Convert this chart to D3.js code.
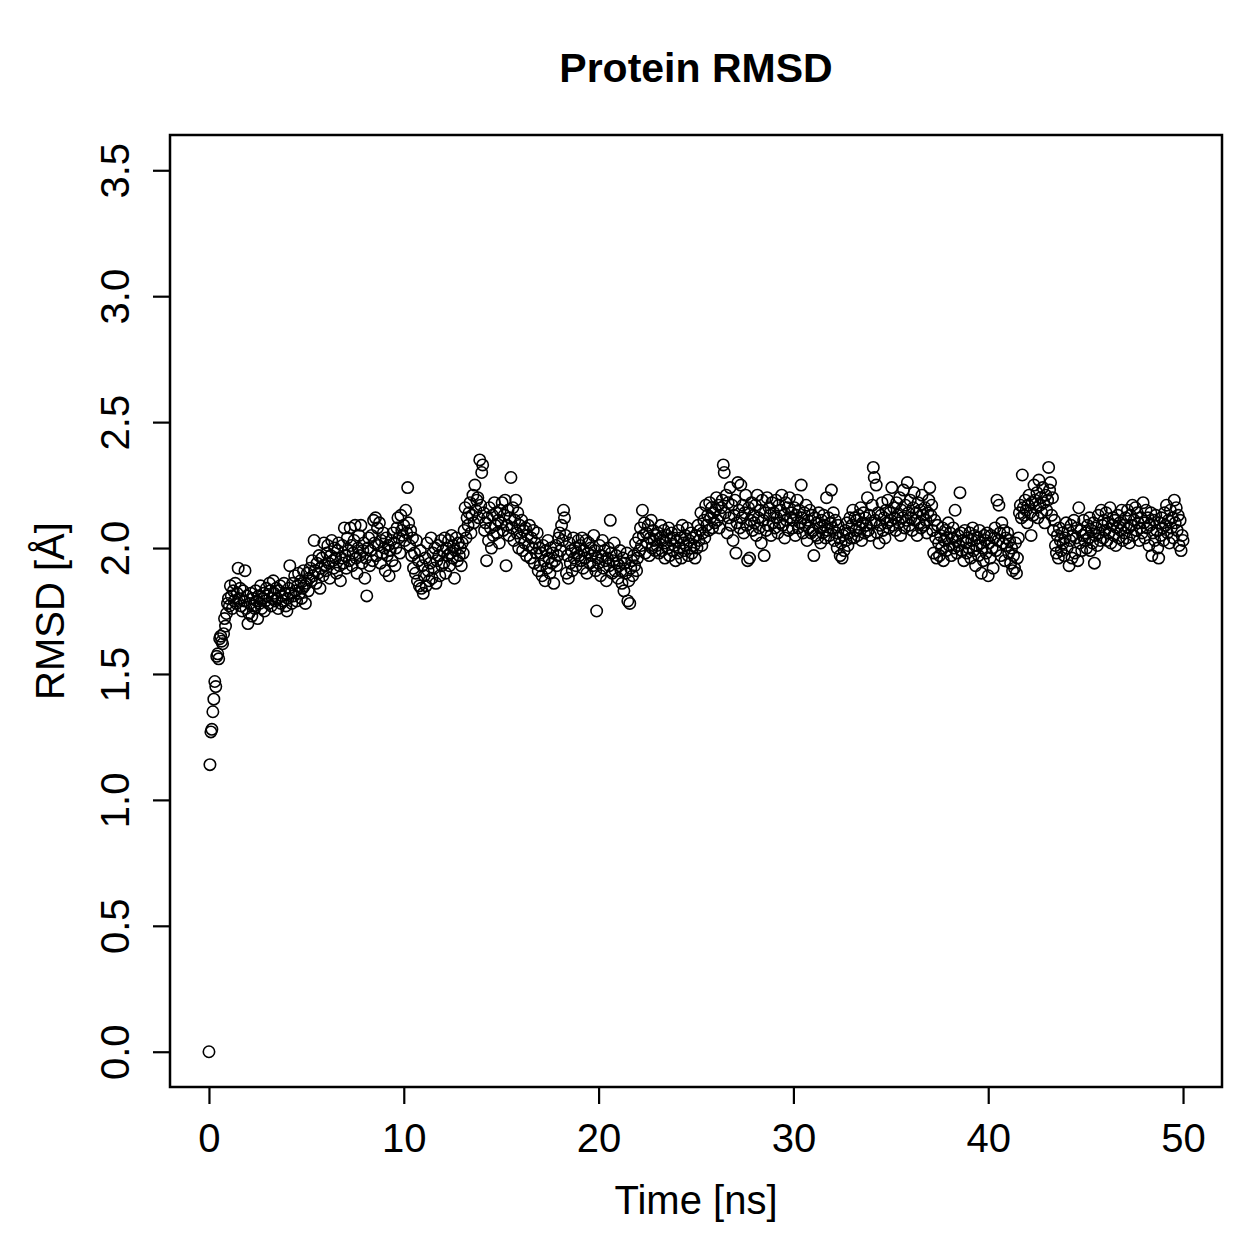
<!DOCTYPE html>
<html>
<head>
<meta charset="utf-8">
<script src="https://cdn.jsdelivr.net/npm/d3@7"></script>
<style>
  body { margin: 0; background: #fff; }
  svg text { font-family: "Liberation Sans", Arial, sans-serif; fill: #000; }
</style>
</head>
<body>
<div id="chart"></div>
<script>
// Data: RMSD sampled every 0.05 ns, one row per ns
const timeStep = 0.05;
const rmsdValues = [
  0.00,1.14,1.27,1.28,1.35,1.40,1.47,1.45,1.57,1.58,1.56,1.64,1.65,1.63,1.62,1.66,1.72,1.69,1.74,1.78,
  1.80,1.77,1.85,1.81,1.76,1.83,1.79,1.86,1.78,1.82,1.92,1.80,1.84,1.77,1.75,1.83,1.79,1.91,1.76,1.81,
  1.70,1.74,1.78,1.82,1.73,1.80,1.77,1.76,1.83,1.79,1.72,1.81,1.78,1.85,1.76,1.80,1.82,1.75,1.79,1.84,
  1.81,1.78,1.86,1.83,1.77,1.80,1.87,1.82,1.79,1.84,1.80,1.76,1.83,1.85,1.78,1.81,1.79,1.86,1.82,1.77,
  1.75,1.80,1.84,1.93,1.82,1.78,1.86,1.81,1.89,1.83,1.79,1.85,1.90,1.82,1.87,1.80,1.84,1.91,1.85,1.78,
  1.86,1.90,1.83,1.88,1.92,1.87,1.95,1.89,2.03,1.91,1.86,1.94,1.90,1.97,1.84,1.92,1.96,1.89,2.02,1.93,
  1.91,1.98,2.01,1.94,1.88,1.97,2.03,1.95,1.92,2.00,1.96,1.90,1.99,2.02,1.93,1.87,1.96,2.01,1.94,2.08,
  1.97,1.92,2.04,1.99,1.95,2.08,2.01,1.93,1.98,2.03,2.09,1.96,1.90,2.00,2.05,1.97,2.09,1.94,1.99,2.02,
  1.88,1.96,1.81,2.00,2.04,1.93,1.99,2.05,1.95,2.11,2.02,2.12,1.97,2.08,2.01,2.10,1.94,2.03,1.98,2.06,
  2.00,1.91,2.04,1.97,2.01,1.89,1.99,2.03,1.95,2.06,2.02,1.93,2.00,2.08,2.12,2.04,1.98,2.13,2.07,2.05,
  2.09,2.03,2.15,2.06,2.24,2.10,2.01,2.07,1.97,2.04,1.92,1.98,1.90,2.03,1.87,1.95,1.85,1.99,1.84,1.93,
  1.82,1.89,1.96,1.85,2.02,1.91,1.87,1.94,2.04,1.88,1.98,1.92,2.00,1.86,1.95,2.01,1.97,1.89,2.03,1.93,
  1.99,1.94,2.04,1.90,2.00,1.97,2.03,1.93,1.98,2.05,1.96,2.01,1.88,1.99,2.04,1.95,2.02,1.97,2.00,1.93,
  2.02,1.98,2.07,2.16,2.04,2.12,2.09,2.14,2.18,2.06,2.13,2.21,2.10,2.25,2.15,2.19,2.20,2.12,2.35,2.17,
  2.30,2.33,2.14,2.07,2.10,1.95,2.12,2.03,2.16,2.08,2.00,2.13,2.05,2.18,2.09,2.14,2.06,2.11,2.02,2.15,
  2.10,2.18,2.07,2.13,2.19,1.93,2.09,2.15,2.05,2.12,2.28,2.08,2.16,2.03,2.11,2.19,2.06,2.14,2.00,2.09,
  2.04,2.11,1.99,2.07,2.02,2.08,1.97,2.05,2.01,2.09,1.96,2.04,2.00,2.07,1.94,2.02,1.98,2.06,1.91,2.00,
  1.93,1.98,1.89,2.01,1.95,1.87,1.99,1.92,2.03,1.96,1.90,2.00,1.94,1.98,1.86,1.95,2.01,1.93,1.97,2.04,
  2.06,1.99,2.09,2.03,2.15,2.12,2.05,1.90,1.97,1.88,2.02,1.94,1.99,1.91,2.04,1.96,2.00,1.93,1.98,2.03,
  1.97,2.01,1.95,2.04,1.92,1.99,1.96,2.03,1.90,1.98,2.02,1.94,2.00,1.97,1.93,2.05,1.99,1.91,1.75,1.96,
  1.94,2.01,1.89,1.97,2.03,1.92,1.99,1.95,1.87,1.96,2.00,1.93,2.11,1.98,1.90,1.95,2.02,1.91,1.97,1.94,
  1.88,1.93,1.99,1.91,1.86,1.96,1.83,1.94,1.90,1.98,1.79,1.87,1.78,1.92,1.95,1.89,1.97,1.93,2.02,1.91,
  1.96,2.04,1.99,2.08,2.01,2.15,2.05,2.10,1.98,2.06,2.02,2.09,1.97,2.04,2.11,2.00,2.07,2.03,1.99,2.05,
  2.01,2.06,1.98,2.04,2.09,1.99,2.03,2.07,1.96,2.02,2.05,2.00,2.08,1.97,2.03,2.06,1.99,2.04,2.01,1.95,
  2.03,1.98,2.07,2.00,2.04,1.96,2.09,2.02,1.99,2.05,2.01,2.08,1.97,2.03,2.00,2.06,1.98,2.04,2.01,1.96,
  2.05,2.00,2.09,2.03,2.07,2.14,2.01,2.06,2.11,2.04,2.17,2.09,2.13,2.07,2.18,2.12,2.16,2.08,2.14,2.10,
  2.15,2.20,2.11,2.17,2.08,2.13,2.16,2.19,2.33,2.30,2.14,2.21,2.06,2.18,2.12,2.24,2.09,2.17,2.03,2.13,
  2.19,1.98,2.10,2.26,2.15,2.08,2.25,2.12,2.17,2.06,2.14,2.21,2.09,1.95,2.16,1.96,2.11,2.18,2.07,2.13,
  2.10,2.17,2.05,2.21,2.12,2.08,2.15,2.02,2.19,2.11,1.97,2.14,2.07,2.20,2.09,2.16,2.13,2.05,2.18,2.10,
  2.14,2.08,2.19,2.12,2.06,2.17,2.10,2.15,2.21,2.09,2.13,2.04,2.18,2.11,2.16,2.07,2.20,2.12,2.14,2.08,
  2.11,2.16,2.05,2.13,2.19,2.08,2.15,2.10,2.25,2.12,2.06,2.14,2.09,2.17,2.03,2.11,2.08,2.15,2.06,2.13,
  2.07,1.97,2.12,2.05,2.10,2.04,2.14,2.08,2.02,2.11,2.06,2.13,2.09,2.04,2.20,2.07,2.12,2.05,2.10,2.23,
  2.08,2.14,2.03,2.11,2.06,2.00,2.09,2.04,1.97,2.02,1.96,2.05,1.99,2.07,2.03,2.10,2.01,2.06,2.12,2.04,
  2.09,2.15,2.04,2.12,2.07,2.11,2.05,2.13,2.08,2.16,2.03,2.10,2.14,2.06,2.12,2.09,2.20,2.07,2.13,2.05,
  2.10,2.17,2.32,2.28,2.11,2.25,2.06,2.14,2.02,2.09,2.13,2.18,2.07,2.12,2.04,2.15,2.10,2.19,2.08,2.14,
  2.11,2.24,2.09,2.16,2.12,2.07,2.18,2.13,2.10,2.20,2.05,2.15,2.12,2.23,2.08,2.17,2.11,2.26,2.14,2.09,
  2.19,2.12,2.07,2.16,2.22,2.11,2.14,2.05,2.18,2.10,2.15,2.08,2.21,2.13,2.09,2.16,2.11,2.06,2.14,2.19,
  2.24,2.13,2.17,2.07,1.98,2.11,2.04,1.96,2.09,2.02,1.97,2.05,2.00,2.08,1.95,2.03,2.07,1.99,2.04,2.10,
  2.01,2.06,1.97,2.04,2.08,2.00,2.15,2.03,1.98,2.05,2.01,2.22,2.06,1.99,2.03,1.95,2.07,2.02,1.98,2.04,
  2.00,2.06,1.96,2.03,2.08,1.99,2.05,1.93,2.01,2.04,1.97,2.07,2.02,1.90,2.00,1.95,2.05,2.03,1.98,2.06,
  1.89,2.02,1.96,2.05,2.00,1.92,2.04,2.08,1.99,2.19,2.03,2.17,2.06,1.97,2.10,2.02,2.07,1.95,2.04,2.01,
  2.06,1.98,2.03,1.94,2.00,1.91,1.97,1.92,2.02,1.90,1.96,2.04,2.14,2.17,2.12,2.29,2.16,2.13,2.19,2.15,
  2.10,2.17,2.21,2.14,2.05,2.18,2.13,2.25,2.19,2.16,2.22,2.12,2.27,2.17,2.20,2.14,2.24,2.18,2.10,2.21,
  2.15,2.19,2.32,2.23,2.26,2.13,2.20,2.07,2.11,2.01,1.98,2.05,1.96,2.08,2.03,1.99,2.06,2.02,1.97,2.04,
  2.10,2.00,2.07,1.93,2.03,2.09,1.96,2.05,2.11,1.98,2.04,2.08,1.95,2.16,2.02,2.07,1.99,2.05,2.11,2.03,
  2.06,2.00,2.09,2.04,2.12,1.99,2.07,2.02,2.10,1.94,2.05,2.08,2.01,2.13,2.06,2.03,2.15,2.09,2.04,2.11,
  2.07,2.14,2.03,2.10,2.06,2.16,2.02,2.09,2.12,2.05,2.11,2.01,2.08,2.13,2.04,2.10,2.07,2.15,2.03,2.09,
  2.06,2.12,2.04,2.15,2.08,2.02,2.13,2.09,2.17,2.05,2.11,2.16,2.07,2.14,2.10,2.03,2.08,2.12,2.06,2.18,
  2.10,2.04,2.15,2.08,2.12,2.01,2.09,2.14,1.97,2.06,2.11,2.03,2.13,2.07,2.00,1.96,2.10,2.05,2.12,2.08,
  2.03,2.14,2.09,2.17,2.06,2.11,2.02,2.15,2.08,2.12,2.04,2.19,2.10,2.16,2.07,2.13,2.01,2.11,1.99,2.05,
  2.03
];
const xTicks = [0, 10, 20, 30, 40, 50];
const yTicks = [0.0, 0.5, 1.0, 1.5, 2.0, 2.5, 3.0, 3.5];
const titleText = "Protein RMSD";
const xLabel = "Time [ns]";
const yLabel = "RMSD [Å]";

// Layout
const width = 1259;
const height = 1259;
const box = { left: 170, right: 1222, top: 135, bottom: 1087 };

const points = rmsdValues.map((v, i) => ({ time: +(i * timeStep).toFixed(2), rmsd: v }));

const svg = d3.select("#chart")
    .append("svg")
    .attr("width", width)
    .attr("height", height);

// R style: 4% padding around data range
const x = d3.scaleLinear().domain([-2, 52]).range([box.left, box.right]);
const y = d3.scaleLinear().domain([-0.14, 3.64]).range([box.bottom, box.top]);

// points
svg.append("g")
    .selectAll("circle")
    .data(points)
    .enter()
    .append("circle")
    .attr("cx", d => x(d.time))
    .attr("cy", d => y(d.rmsd))
    .attr("r", 5.7)
    .attr("fill", "none")
    .attr("stroke", "#000")
    .attr("stroke-width", 1.6);

// x axis
const xAxis = svg.append("g")
    .attr("transform", `translate(0,${box.bottom})`)
    .call(d3.axisBottom(x).tickValues(xTicks).tickSize(17).tickFormat(d3.format("d")));
xAxis.select(".domain").remove();
xAxis.selectAll(".tick line").attr("stroke", "#000").attr("stroke-width", 2.2);
xAxis.selectAll(".tick text")
    .attr("y", 65)
    .attr("dy", 0)
    .style("font-size", "40px");

// y axis, labels turned like R's las=0
const yAxis = svg.append("g")
    .attr("transform", `translate(${box.left},0)`)
    .call(d3.axisLeft(y).tickValues(yTicks).tickSize(17).tickFormat(d3.format(".1f")));
yAxis.select(".domain").remove();
yAxis.selectAll(".tick line").attr("stroke", "#000").attr("stroke-width", 2.2);
yAxis.selectAll(".tick text")
    .attr("transform", "rotate(-90)")
    .attr("x", 0)
    .attr("y", -41)
    .attr("dy", 0)
    .attr("text-anchor", "middle")
    .style("font-size", "40px");

// frame
svg.append("rect")
    .attr("x", box.left)
    .attr("y", box.top)
    .attr("width", box.right - box.left)
    .attr("height", box.bottom - box.top)
    .attr("fill", "none")
    .attr("stroke", "#000")
    .attr("stroke-width", 2.5);

// title and axis labels
svg.append("text")
    .attr("x", (box.left + box.right) / 2)
    .attr("y", 82)
    .attr("text-anchor", "middle")
    .style("font-size", "41px")
    .style("font-weight", "bold")
    .text(titleText);

svg.append("text")
    .attr("x", (box.left + box.right) / 2)
    .attr("y", 1214)
    .attr("text-anchor", "middle")
    .style("font-size", "40px")
    .text(xLabel);

svg.append("text")
    .attr("transform", `translate(64,${(box.top + box.bottom) / 2}) rotate(-90)`)
    .attr("text-anchor", "middle")
    .style("font-size", "40px")
    .text(yLabel);
</script>
</body>
</html>
